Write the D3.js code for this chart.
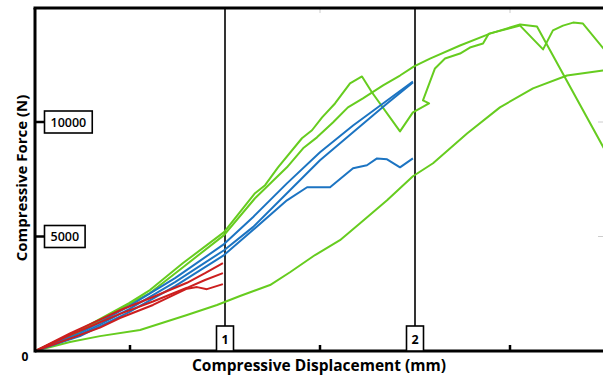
<!DOCTYPE html>
<html>
<head>
<meta charset="utf-8">
<script src="https://cdn.jsdelivr.net/npm/d3@7"></script>
<style>
html,body{margin:0;padding:0;background:#fff;}
svg{display:block;font-family:"Open Sans",sans-serif;}
</style>
</head>
<body>
<svg id="chart" width="603" height="376"></svg>
<script>
// ---- data (displacement mm, force N) ----
const yTicks = [5000, 10000];
const yTickLabels = ["5000", "10000"];
const xTicks = [0.5, 1.5, 2.5];
const markers = [1, 2];
const markerLabels = ["1", "2"];

const greenA = [[0,0],[0.237,920],[0.495,2090],[0.605,2660],[0.779,3840],[0.995,5190],[1.158,6890],[1.211,7240],[1.279,8020],[1.405,9290],[1.458,9640],[1.511,10200],[1.579,10810],[1.658,11690],[1.721,11990],[1.774,11290],[1.921,9590],[1.989,10420],[2.074,10810],[2.042,10940],[2.105,12340],[2.158,12770],[2.237,12990],[2.289,13250],[2.358,13430],[2.389,13860],[2.553,14210],[2.674,13170],[2.726,14000],[2.779,14210],[2.832,14340],[2.884,14300],[3.026,12860]];
const greenB = [[0,0],[0.237,830],[0.495,2050],[0.605,2530],[0.779,3660],[0.995,5060],[1.158,6670],[1.326,8020],[1.411,8850],[1.484,9330],[1.568,9980],[1.647,10640],[1.726,11030],[1.832,11600],[1.921,12030],[1.995,12430],[2.079,12770],[2.237,13340],[2.395,13860],[2.553,14260],[2.642,14170],[3.026,8370]];
const greenC = [[0,0],[0.184,390],[0.342,650],[0.553,920],[0.8,1570],[0.958,2010],[1.079,2400],[1.237,2880],[1.342,3440],[1.474,4190],[1.605,4840],[1.711,5580],[1.853,6580],[1.989,7630],[2.095,8200],[2.274,9500],[2.447,10640],[2.621,11470],[2.8,12030],[2.989,12250],[3.026,12270]];
const blue1 = [[0,0],[0.237,780],[0.495,1960],[0.737,3180],[0.995,4670],[1.147,5840],[1.326,7320],[1.5,8680],[1.674,9850],[1.853,10940],[1.989,11770]];
const blue2 = [[0,0],[0.237,700],[0.495,1830],[0.737,3010],[0.995,4400],[1.147,5410],[1.326,6890],[1.5,8330],[1.674,9550],[1.853,10810],[1.989,11730]];
const blue3 = [[0,0],[0.237,650],[0.495,1700],[0.737,2830],[0.995,4190],[1.147,5280],[1.326,6580],[1.432,7150],[1.553,7150],[1.674,7980],[1.747,8110],[1.8,8410],[1.853,8370],[1.921,8020],[1.989,8410]];
const red1 = [[0,0],[0.184,770],[0.342,1370],[0.447,1780],[0.621,2360],[0.8,2980],[0.895,3400],[0.989,3840]];
const red2 = [[0,0],[0.184,700],[0.342,1250],[0.447,1620],[0.621,2160],[0.8,2760],[0.895,3100],[0.989,3400]];
const red3 = [[0,0],[0.184,540],[0.342,1020],[0.447,1440],[0.621,2010],[0.8,2720],[0.853,2790],[0.905,2700],[0.989,2920]];

const series = [
  {data: greenC, color: "#66cc1f"}, {data: greenA, color: "#66cc1f"}, {data: greenB, color: "#66cc1f"},
  {data: blue3, color: "#1c74c2"}, {data: blue2, color: "#1c74c2"}, {data: blue1, color: "#1c74c2"},
  {data: red3, color: "#cc1f1f"}, {data: red2, color: "#cc1f1f"}, {data: red1, color: "#cc1f1f"}
];

// ---- layout ----
const svg = d3.select("#chart");
const L = 35, R = 603, T = 8, B = 351;
const x = d3.scaleLinear().domain([0, 3]).range([L, 605]);
const y = d3.scaleLinear().domain([0, 15000]).range([B, 7.5]);

svg.append("defs").append("clipPath").attr("id", "clip")
  .append("rect").attr("x", L).attr("y", T).attr("width", R - L).attr("height", B - T);

// faint ticks on top / right
const g0 = svg.append("g");
xTicks.slice(1).forEach(v => g0.append("line").attr("x1", x(v)).attr("x2", x(v)).attr("y1", T).attr("y2", T + 5).attr("stroke", "#ccc").attr("stroke-width", 1));
yTicks.forEach(v => g0.append("line").attr("x1", R - 5).attr("x2", R).attr("y1", y(v)).attr("y2", y(v)).attr("stroke", "#ccc").attr("stroke-width", 1));

// marker vertical lines
markers.forEach(v => {
  svg.append("line").attr("x1", x(v)).attr("x2", x(v)).attr("y1", T).attr("y2", B - 25)
    .attr("stroke", "#000").attr("stroke-width", 1.6);
});

// curves
const line = d3.line().x(d => x(d[0])).y(d => y(d[1]));
const cg = svg.append("g").attr("clip-path", "url(#clip)");
series.forEach(s => {
  cg.append("path").attr("d", line(s.data)).attr("fill", "none")
    .attr("stroke", s.color).attr("stroke-width", 2).attr("stroke-linejoin", "round");
});

// frame
svg.append("line").attr("x1", L - 1.5).attr("x2", R).attr("y1", T).attr("y2", T).attr("stroke", "#000").attr("stroke-width", 3);
svg.append("line").attr("x1", L).attr("x2", L).attr("y1", T).attr("y2", B + 1.5).attr("stroke", "#000").attr("stroke-width", 3);
svg.append("line").attr("x1", L).attr("x2", R).attr("y1", B).attr("y2", B).attr("stroke", "#000").attr("stroke-width", 3);

// bottom ticks
xTicks.forEach(v => svg.append("line").attr("x1", x(v)).attr("x2", x(v)).attr("y1", B).attr("y2", B - 6)
  .attr("stroke", "#000").attr("stroke-width", 2.5));

// marker boxes
markers.forEach((v, i) => {
  const cx = x(v);
  svg.append("rect").attr("x", cx - 8.5).attr("y", B - 25).attr("width", 17).attr("height", 25)
    .attr("fill", "#fff").attr("stroke", "#000").attr("stroke-width", 1.6);
  svg.append("text").attr("x", cx).attr("y", B - 7).attr("text-anchor", "middle")
    .attr("font-size", 12.5).attr("font-weight", 700).text(markerLabels[i]);
});

// y ticks with boxed labels
yTicks.forEach((v, i) => {
  const cy = y(v);
  svg.append("line").attr("x1", L).attr("x2", L + 10).attr("y1", cy).attr("y2", cy).attr("stroke", "#000").attr("stroke-width", 2.5);
  const t = svg.append("text").attr("x", L + 15.5).attr("y", cy + 4.5)
    .attr("font-size", 12.5).attr("font-weight", 600).text(yTickLabels[i]);
  const w = t.node().getComputedTextLength();
  svg.insert("rect", "text").attr("x", L + 9.5).attr("y", cy - 11).attr("width", w + 12).attr("height", 22)
    .attr("fill", "#fff").attr("stroke", "#000").attr("stroke-width", 1.6);
});
svg.append("text").attr("x", 25).attr("y", 361).attr("text-anchor", "middle")
  .attr("font-size", 12).attr("font-weight", 700).text("0");

// axis titles
svg.append("text").attr("x", 319).attr("y", 371).attr("text-anchor", "middle")
  .attr("font-size", 15.5).attr("font-weight", 700).text("Compressive Displacement (mm)");
svg.append("text").attr("transform", "translate(27,178) rotate(-90)").attr("text-anchor", "middle")
  .attr("font-size", 15).attr("font-weight", 700).text("Compressive Force (N)");
</script>
</body>
</html>
